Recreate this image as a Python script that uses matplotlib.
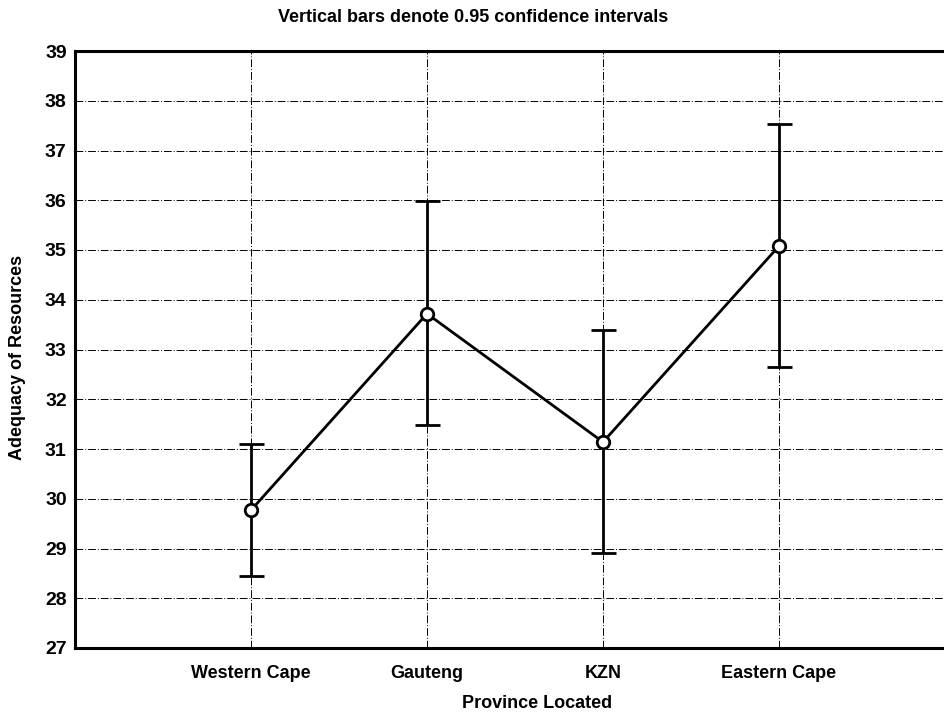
import matplotlib.pyplot as plt

# Data
provinces = ['Western Cape', 'Gauteng', 'KZN', 'Eastern Cape']
means = [29.77, 33.72, 31.14, 35.08]
upper = [31.10, 35.98, 33.39, 37.53]
lower = [28.44, 31.49, 28.90, 32.64]

plt.rcParams['font.family'] = ['Liberation Sans', 'DejaVu Sans']

fig = plt.figure(figsize=(9.44, 7.14), dpi=100)
ax = fig.add_axes([75 / 944, 66 / 714, 880 / 944, 597 / 714])

x = list(range(1, len(provinces) + 1))
yerr = [[m - lo for m, lo in zip(means, lower)],
        [up - m for m, up in zip(means, upper)]]

ax.errorbar(x, means, yerr=yerr, color='black', lw=2, capsize=9,
            capthick=2.2, marker='o', markersize=9, markerfacecolor='white',
            markeredgecolor='black', markeredgewidth=2, zorder=3)

ax.set_xlim(0, 5)
ax.set_ylim(27, 39)
ax.set_yticks(range(27, 40))
ax.set_xticks(x)
ax.set_xticklabels(provinces)
ax.grid(True, color='black', linestyle='-.', linewidth=0.7, dashes=(8, 2, 1, 2))
ax.tick_params(axis='y', length=0, labelsize=14, pad=6)
ax.tick_params(axis='x', length=0, labelsize=13, pad=12)
for lab in ax.get_xticklabels() + ax.get_yticklabels():
    lab.set_fontweight('bold')

for s in ['left', 'top', 'bottom', 'right']:
    ax.spines[s].set_linewidth(2.2)

ax.set_xlabel('Province Located', fontsize=13, fontweight='bold', va='center')
ax.xaxis.set_label_coords(0.525, -(704 - 648) / 597)
ax.set_ylabel('Adequacy of Resources', fontsize=13, fontweight='bold',
              va='center', ha='center')
ax.yaxis.set_label_coords(-(75 - 18) / 880, (648 - 357) / 597)
fig.text(0.501, 1 - 18 / 714, 'Vertical bars denote 0.95 confidence intervals',
         ha='center', va='center', fontsize=13, fontweight='bold')

fig.savefig('out.png', dpi=100)
